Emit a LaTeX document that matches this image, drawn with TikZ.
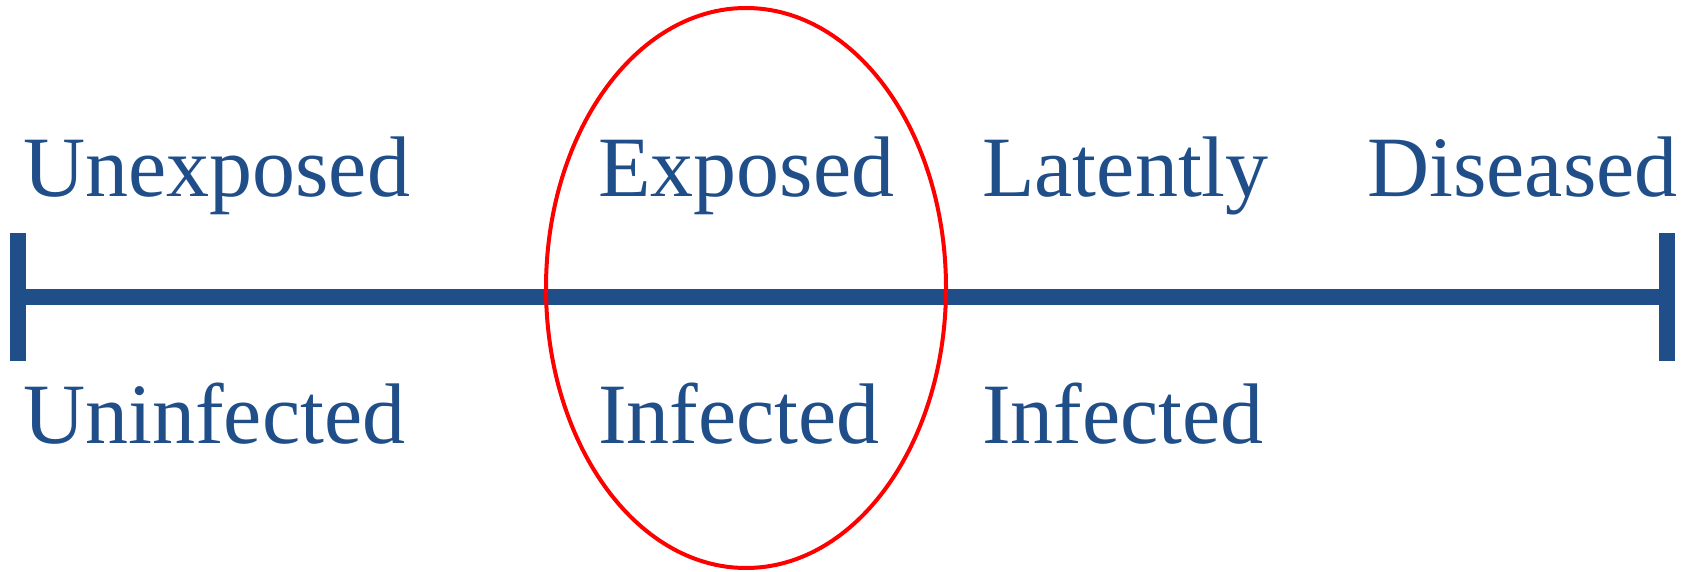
\documentclass[tikz,border=0pt]{standalone}
\usepackage{fontspec}
\setmainfont{Liberation Serif}
\definecolor{infBlue}{HTML}{1F4E89}
\definecolor{infRed}{HTML}{FF0000}
\tikzset{
  inf axis/.style={draw=infBlue, line width=16pt},
  inf tick/.style={draw=infBlue, line width=16pt},
  inf ring/.style={draw=infRed, line width=4pt},
  inf label/.style={anchor=base west, inner sep=0pt, text=infBlue, font=\fontsize{86}{100}\selectfont},
}

\begin{document}
\begin{tikzpicture}[x=1pt,y=1pt]
  \useasboundingbox (0,0) rectangle (1686,571);
  % Timeline with end ticks
  \coordinate (start) at (18,274);
  \coordinate (end) at (1667,274);
  \draw[inf axis] (start) -- (end);
  \draw[inf tick] ([yshift=64pt]start) -- ([yshift=-64pt]start);
  \draw[inf tick] ([yshift=64pt]end) -- ([yshift=-64pt]end);
  % Stages above the line
  \node[inf label] (unexposed) at (23,374) {Unexposed};
  \node[inf label] (exposed) at (598,374) {Exposed};
  \node[inf label] (latently) at (982,374) {Latently};
  \node[inf label] (diseased) at (1367,374) {Diseased};
  % Stages below the line
  \node[inf label] (uninfected) at (23,128) {Uninfected};
  \node[inf label] (infected) at (598,128) {Infected};
  \node[inf label] (latentinf) at (982,128) {Infected};
  % Highlight ring
  \draw[inf ring] (746,283) ellipse [x radius=200, y radius=280];
\end{tikzpicture}
\end{document}
